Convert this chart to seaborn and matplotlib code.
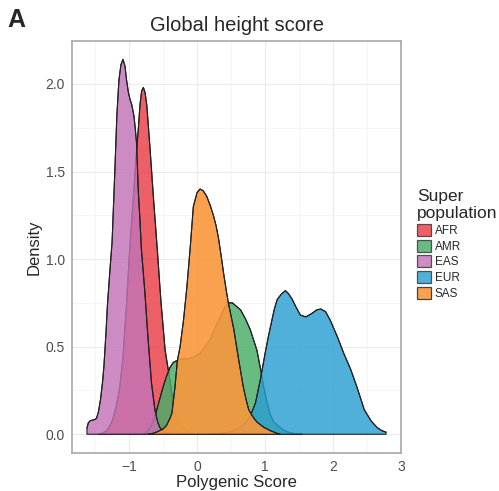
import numpy as np
import pandas as pd
import matplotlib
matplotlib.use("Agg")
import matplotlib.pyplot as plt
from matplotlib.patches import Patch
import seaborn as sns

# ---- data (density curves) ----
populations = ["AFR", "AMR", "EAS", "EUR", "SAS"]

afr_x = [-1.45, -1.40, -1.33, -1.28, -1.24, -1.19, -1.14, -1.09, -1.04, -0.99, -0.94, -0.89, -0.865,
         -0.84, -0.815, -0.79, -0.765, -0.74, -0.69, -0.64, -0.59, -0.53, -0.47, -0.40, -0.35, -0.30,
         -0.24, -0.15, -0.05, 0.05]
afr_y = [0.0, 0.005, 0.02, 0.05, 0.085, 0.16, 0.26, 0.44, 0.73, 1.06, 1.34, 1.62, 1.74,
         1.88, 1.96, 1.98, 1.95, 1.88, 1.62, 1.34, 1.08, 0.75, 0.48, 0.31, 0.17, 0.09,
         0.05, 0.02, 0.005, 0.0]

amr_x = [-0.80, -0.75, -0.70, -0.65, -0.60, -0.55, -0.50, -0.45, -0.40, -0.35, -0.30, -0.22, -0.15,
         -0.05, 0.04, 0.12, 0.19, 0.27, 0.34, 0.40, 0.46, 0.52, 0.58, 0.64, 0.71, 0.78, 0.83, 0.88,
         0.93, 0.98, 1.03, 1.08, 1.13, 1.20, 1.27, 1.35, 1.45, 1.55]
amr_y = [0.0, 0.01, 0.03, 0.07, 0.13, 0.20, 0.27, 0.33, 0.38, 0.41, 0.42, 0.43, 0.43,
         0.44, 0.46, 0.50, 0.54, 0.61, 0.67, 0.72, 0.75, 0.75, 0.73, 0.71, 0.66, 0.60, 0.54, 0.48,
         0.38, 0.27, 0.18, 0.11, 0.07, 0.045, 0.025, 0.01, 0.003, 0.0]

eas_x = [-1.62, -1.60, -1.57, -1.52, -1.48, -1.45, -1.42, -1.39, -1.37, -1.34, -1.32, -1.285, -1.25,
         -1.21, -1.18, -1.15, -1.12, -1.09, -1.06, -1.04, -1.01, -0.985, -0.96, -0.93, -0.91, -0.89,
         -0.865, -0.84, -0.82, -0.77, -0.72, -0.67, -0.62, -0.58, -0.55, -0.50, -0.45, -0.40]
eas_y = [0.035, 0.065, 0.078, 0.082, 0.09, 0.13, 0.20, 0.30, 0.39, 0.58, 0.73, 0.92, 1.10,
         1.50, 1.82, 2.02, 2.11, 2.14, 2.10, 2.03, 1.95, 1.91, 1.88, 1.82, 1.75, 1.66,
         1.39, 1.22, 1.06, 0.82, 0.54, 0.29, 0.14, 0.07, 0.04, 0.015, 0.005, 0.0]

eur_x = [0.20, 0.35, 0.50, 0.60, 0.70, 0.78, 0.86, 0.93, 1.00, 1.05, 1.10, 1.14, 1.18, 1.24, 1.30,
         1.35, 1.40, 1.45, 1.52, 1.60, 1.69, 1.76, 1.82, 1.89, 1.96, 2.06, 2.16, 2.26, 2.36, 2.46,
         2.56, 2.65, 2.72, 2.78]
eur_y = [0.0, 0.005, 0.015, 0.03, 0.06, 0.10, 0.18, 0.31, 0.46, 0.56, 0.65, 0.72, 0.77, 0.80, 0.82,
         0.80, 0.77, 0.73, 0.68, 0.67, 0.69, 0.71, 0.715, 0.70, 0.65, 0.56, 0.46, 0.37, 0.26, 0.14,
         0.076, 0.038, 0.02, 0.012]

sas_x = [-0.72, -0.65, -0.58, -0.50, -0.45, -0.40, -0.37, -0.325, -0.29, -0.25, -0.20, -0.15, -0.10,
         -0.055, 0.0, 0.044, 0.09, 0.14, 0.19, 0.24, 0.28, 0.315, 0.35, 0.39, 0.43, 0.46, 0.54, 0.61,
         0.68, 0.72, 0.76, 0.82, 0.88, 0.98, 1.08, 1.18, 1.22]
sas_y = [0.0, 0.005, 0.015, 0.03, 0.05, 0.09, 0.12, 0.27, 0.42, 0.50, 0.65, 0.84, 1.07,
         1.30, 1.38, 1.40, 1.39, 1.36, 1.31, 1.25, 1.19, 1.12, 1.03, 0.92, 0.82, 0.75, 0.60, 0.43,
         0.27, 0.20, 0.14, 0.10, 0.07, 0.04, 0.02, 0.005, 0.0]

x_ticks = [-1, 0, 1, 2, 3]
x_tick_labels = ["\u22121", "0", "1", "2", "3"]
y_ticks = [0.0, 0.5, 1.0, 1.5, 2.0]

colors = {"AFR": "#EA3D47", "AMR": "#47AE67", "EAS": "#C373B7", "EUR": "#2A9FD2", "SAS": "#F9973C"}
alphas = {"AFR": 0.82, "AMR": 0.82, "EAS": 0.82, "EUR": 0.82, "SAS": 0.9}

series = {"AFR": (afr_x, afr_y), "AMR": (amr_x, amr_y), "EAS": (eas_x, eas_y),
          "EUR": (eur_x, eur_y), "SAS": (sas_x, sas_y)}
df = pd.concat([pd.DataFrame({"score": x, "density": y, "pop": p})
                for p, (x, y) in series.items()], ignore_index=True)

sns.set_style("white")
plt.rcParams["font.family"] = ["Liberation Sans", "DejaVu Sans"]

fig = plt.figure(figsize=(4.99, 4.91), dpi=100)
ax = fig.add_axes([72/499, 1-453/491, (401-72)/499, (453-41)/491])

edge = "#222222"
z = 2
for p in populations:
    sub = df[df["pop"] == p]
    ax.fill_between(sub["score"], 0, sub["density"], facecolor=colors[p], alpha=alphas[p],
                    edgecolor="none", zorder=z)
    ax.fill_between(sub["score"], 0, sub["density"], facecolor="none",
                    edgecolor=edge, linewidth=0.8, zorder=z + 0.5)
    sns.lineplot(data=sub, x="score", y="density", color=edge, linewidth=0.8,
                 estimator=None, sort=False, ax=ax, zorder=z + 0.5)
    z += 1

ax.set_xlim(-1.84, 3.0)
ax.set_ylim(-0.107, 2.245)
ax.set_xticks(x_ticks)
ax.set_xticklabels(x_tick_labels)
ax.set_yticks(y_ticks)
ax.set_yticklabels([f"{v:.1f}" for v in y_ticks])
ax.set_xticks([-1.5, -0.5, 0.5, 1.5, 2.5], minor=True)
ax.set_yticks([0.25, 0.75, 1.25, 1.75], minor=True)
ax.grid(True, which="major", color="#EBEBEB", linewidth=0.9, zorder=0)
ax.grid(True, which="minor", color="#F3F3F3", linewidth=0.5, zorder=0)
ax.set_axisbelow(True)
ax.tick_params(axis="both", which="major", length=3, width=0.8, color="#555555",
               labelsize=10, labelcolor="#4D4D4D", pad=2, direction="out")
ax.tick_params(axis="both", which="minor", length=0)
for s in ax.spines.values():
    s.set_color("#A8A8A8")
    s.set_linewidth(1.2)

ax.set_xlabel("Polygenic Score", fontsize=12, labelpad=1)
ax.set_ylabel("Density", fontsize=12, labelpad=3)
ax.set_title("Global height score", fontsize=14.5, pad=7)

fig.text(7/499, 1-27/491, "A", fontsize=18, fontweight="bold", ha="left", va="baseline")

handles = [Patch(facecolor=colors[p], alpha=alphas[p], edgecolor="#333333", linewidth=0.9)
           for p in populations]
leg = fig.legend(handles, populations, loc="upper left", bbox_to_anchor=(417/499, 1-189/491),
                 frameon=False, fontsize=8.5, title="Super\npopulation", title_fontsize=12.5,
                 handlelength=1.2, handleheight=1.2, handletextpad=0.3, labelspacing=0.22,
                 borderpad=0, borderaxespad=0)
leg._legend_box.align = "left"

fig.savefig("out.png", dpi=100)
